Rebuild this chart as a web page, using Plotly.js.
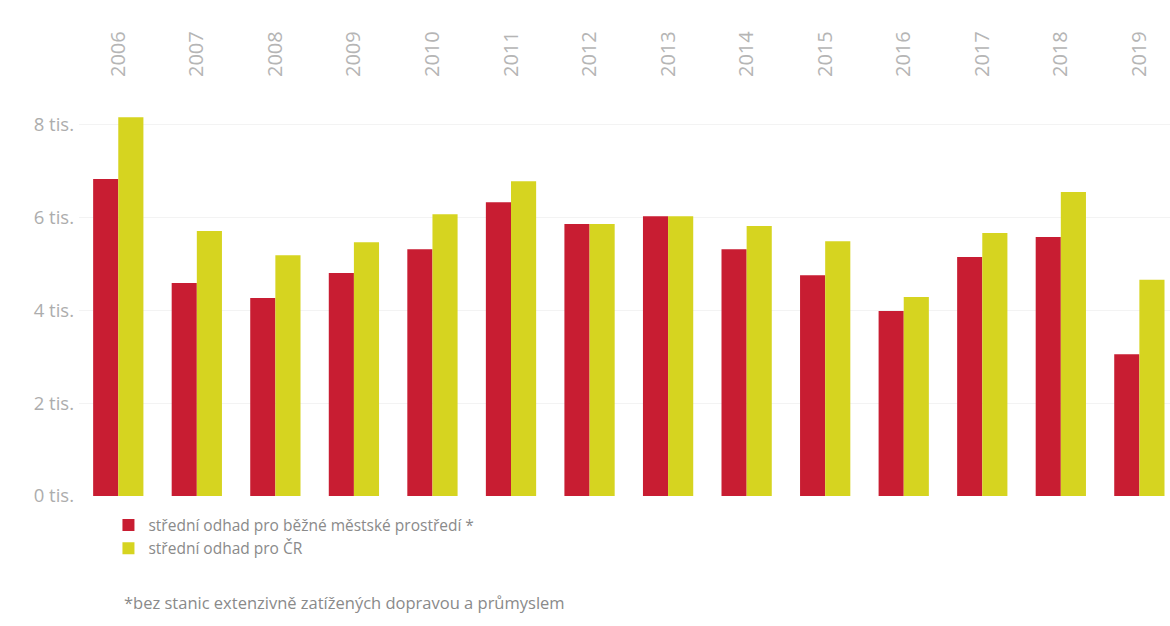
<!DOCTYPE html>
<html>
<head>
<meta charset="utf-8">
<script src="https://cdn.plot.ly/plotly-3.0.1.min.js"></script>
<style>html,body{margin:0;padding:0;background:#fff;}#chart{width:1170px;height:626px;}</style>
</head>
<body>
<div id="chart"></div>
<script>
const years = ["2006","2007","2008","2009","2010","2011","2012","2013","2014","2015","2016","2017","2018","2019"];
const urbanValues = [6820,4580,4260,4800,5310,6320,5850,6020,5310,4750,3980,5140,5570,3050];
const czValues = [8150,5700,5180,5460,6060,6770,5850,6020,5810,5480,4280,5660,6540,4650];
const yTickVals = [0,2000,4000,6000,8000];
const yTickText = ["0 tis.","2 tis.","4 tis.","6 tis.","8 tis."];
const seriesNames = ["střední odhad pro běžné městské prostředí *","střední odhad pro ČR"];
const footnote = "*bez stanic extenzivně zatížených dopravou a průmyslem";

const traces = [
  {type:"bar", x:years, y:urbanValues, name:seriesNames[0], marker:{color:"#c81d32"}},
  {type:"bar", x:years, y:czValues, name:seriesNames[1], marker:{color:"#d6d420"}}
];
const layout = {
  width:1170, height:626,
  margin:{l:79, r:0, t:80, b:130},
  paper_bgcolor:"#fff", plot_bgcolor:"#fff",
  font:{family:"Open Sans, sans-serif", color:"#999"},
  barmode:"group", bargap:0.36, bargroupgap:0,
  showlegend:true,
  legend:{orientation:"v", x:0.027, xanchor:"left", y:-0.03, yanchor:"top",
          font:{size:15.5, color:"#8a8a8a"}, tracegroupgap:0},
  xaxis:{type:"category", side:"top", tickangle:-90, range:[-0.5,13.39], ticklabelstandoff:2,
         tickfont:{size:20, color:"#b5b5b5"}, showgrid:false, zeroline:false, showline:false, ticks:""},
  yaxis:{range:[0,8950], tickvals:yTickVals, ticktext:yTickText, tickfont:{size:18.5, color:"#adadad"},
         ticklabelstandoff:4,
         showgrid:true, gridcolor:"#f3f3f3", zeroline:false, showline:false, ticks:""},
  annotations:[{text:footnote, xref:"paper", yref:"paper", x:0.039, y:-0.257, xanchor:"left", yanchor:"middle",
                showarrow:false, font:{size:16.5, color:"#8a8a8a"}}]
};
Plotly.newPlot("chart", traces, layout, {displayModeBar:false, staticPlot:true});
</script>
</body>
</html>
